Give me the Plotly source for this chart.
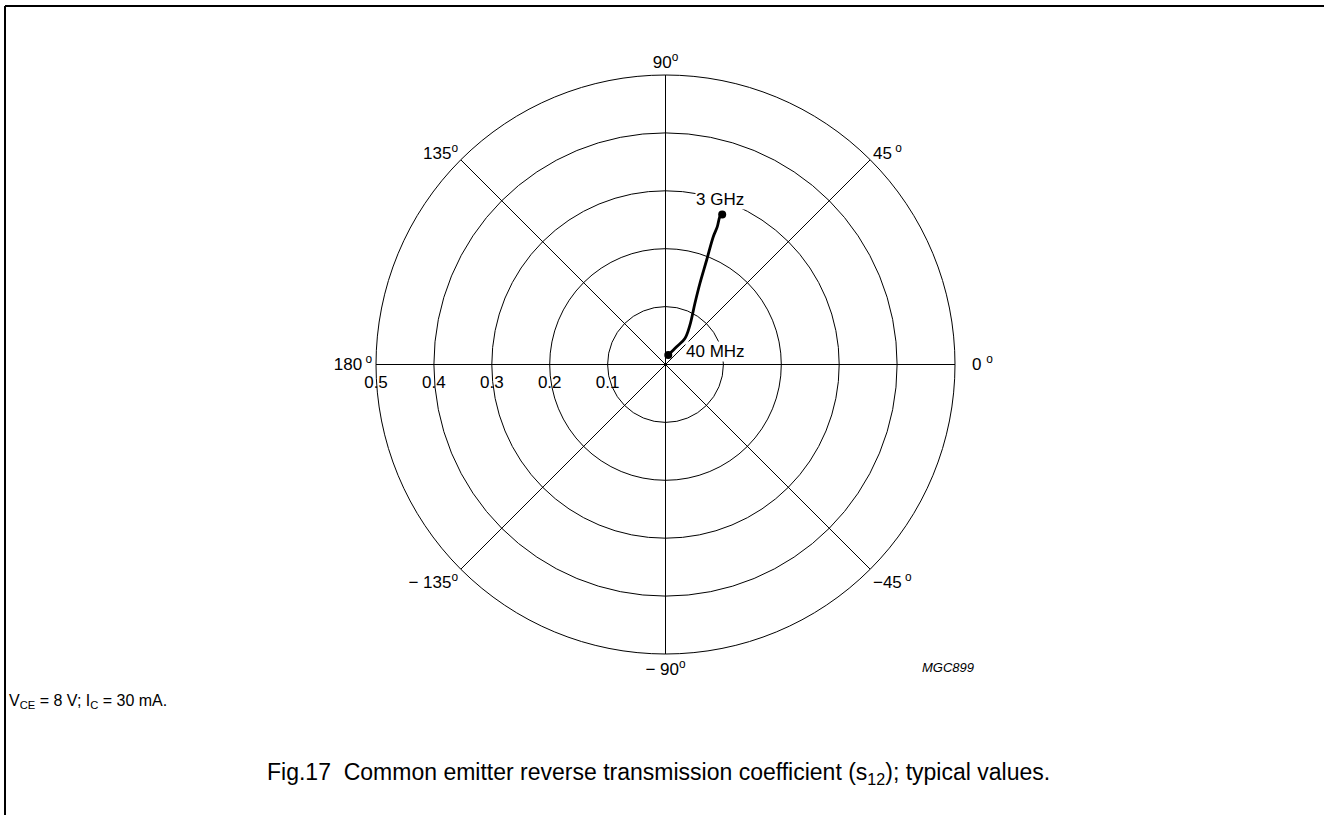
import plotly.graph_objects as go

# ---- data ----
s12_mag = [0.017, 0.036, 0.056, 0.080, 0.117, 0.152, 0.194, 0.236, 0.254, 0.272, 0.277]
s12_ang = [73.6, 57.8, 53.3, 58.2, 64.3, 67.0, 68.5, 69.5, 69.4, 69.8, 69.3]
radial_ticks = [0.1, 0.2, 0.3, 0.4, 0.5]
radial_ticktext = ["0.1", "0.2", "0.3", "0.4", "0.5"]
radial_label_angle = 180
angle_ticks = [0, 45, 90, 135, 180, 225, 270, 315]
angle_ticktext = ["\u2002\u00a00 <sup>o</sup>", "45<sup> o</sup>", "90<sup>o</sup>", "135<sup>o</sup>",
                  "180<sup> o</sup>", "\u2212 135<sup>o</sup>", "\u2212 90<sup>o</sup>", "\u221245<sup> o</sup>"]
end_labels = ["40 MHz", "3 GHz"]

W, H = 1324, 815
FONT = "Liberation Sans, Arial, sans-serif"


def fnt(size, **kw):
    return dict(family=FONT, color="black", size=size, **kw)


fig = go.Figure()
fig.add_trace(go.Scatterpolar(
    r=s12_mag, theta=s12_ang, mode="lines",
    line=dict(color="black", width=2.8, shape="spline"),
    hoverinfo="skip", showlegend=False))
fig.add_trace(go.Scatterpolar(
    r=[s12_mag[0], s12_mag[-1]], theta=[s12_ang[0], s12_ang[-1]], mode="markers",
    marker=dict(color="black", size=8), showlegend=False))
# radial scale labels along the 180 deg spoke, placed through the polar scale
fig.add_trace(go.Scatterpolar(
    r=radial_ticks, theta=[radial_label_angle] * len(radial_ticks), mode="markers+text",
    text=radial_ticktext, textposition="bottom center", textfont=fnt(17),
    marker=dict(size=16, opacity=0), hoverinfo="skip", showlegend=False, cliponaxis=False))

cx, cy, rad = 665.5, 364.5, 289.5
fig.update_layout(
    width=W, height=H,
    margin=dict(l=0, r=0, t=0, b=0),
    paper_bgcolor="white", plot_bgcolor="white",
    font=fnt(17),
    showlegend=False,
    polar=dict(
        domain=dict(x=[(cx - rad) / W, (cx + rad) / W],
                    y=[1 - (cy + rad) / H, 1 - (cy - rad) / H]),
        bgcolor="white",
        radialaxis=dict(range=[0, 0.5], tickvals=radial_ticks, showticklabels=False,
                        angle=180, showline=False, ticks="", gridcolor="black", gridwidth=1),
        angularaxis=dict(tickvals=angle_ticks, ticktext=angle_ticktext,
                         direction="counterclockwise", rotation=0,
                         showline=True, linecolor="black", linewidth=1,
                         gridcolor="black", gridwidth=1, ticks="",
                         tickfont=fnt(17)),
    ),
)

annos = [
    dict(x=720 / W, y=1 - 199 / H, text=end_labels[1], font=fnt(17), bgcolor="white"),
    dict(x=715 / W, y=1 - 352 / H, text=end_labels[0], font=fnt(17), bgcolor="white"),
    dict(x=948 / W, y=1 - 667 / H, text="<i>MGC899</i>", font=fnt(13)),
    dict(x=8 / W, y=1 - 701 / H, text="V<sub>CE</sub> = 8 V; I<sub>C</sub> = 30 mA.",
         font=fnt(16), xanchor="left"),
    dict(x=658 / W, y=1 - 773 / H,
         text="Fig.17  Common emitter reverse transmission coefficient (s<sub>12</sub>); typical values.",
         font=fnt(23)),
]
for a in annos:
    a.setdefault("xanchor", "center")
    fig.add_annotation(xref="paper", yref="paper", showarrow=False, yanchor="middle",
                       borderpad=0, **a)

fig.add_shape(type="line", xref="paper", yref="paper", x0=5 / W, x1=5 / W, y0=0, y1=1 - 6 / H,
              line=dict(color="black", width=2))
fig.add_shape(type="line", xref="paper", yref="paper", x0=5 / W, x1=1, y0=1 - 6 / H, y1=1 - 6 / H,
              line=dict(color="black", width=2))

fig.write_html("out.html", config={"displayModeBar": False},
               post_script="document.body.style.margin='0';document.body.style.overflow='hidden';")
